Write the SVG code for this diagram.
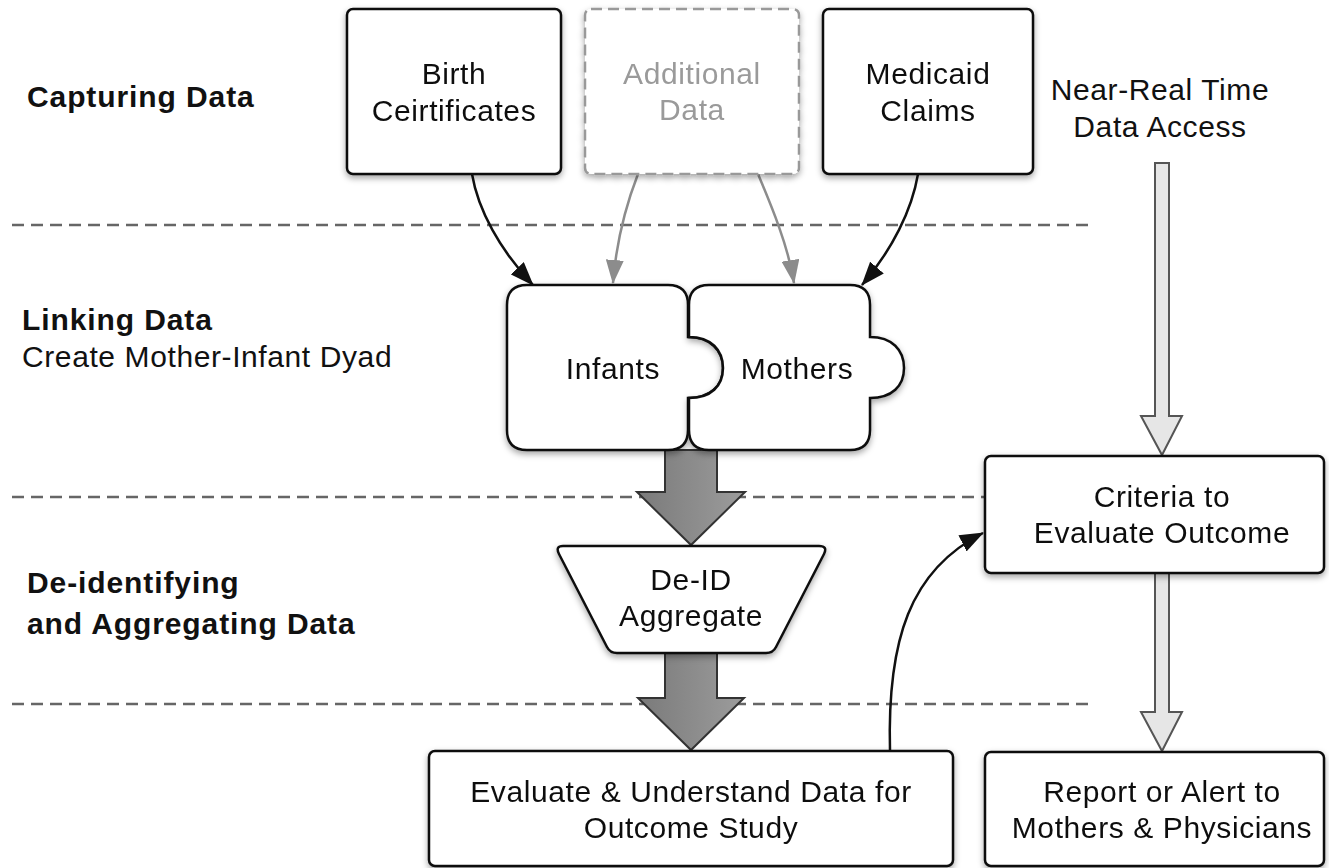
<svg xmlns="http://www.w3.org/2000/svg" width="1329" height="868" viewBox="0 0 1329 868">
<style>
  text { font-family: "Liberation Sans", Arial, Helvetica, sans-serif; font-size: 30px; letter-spacing: 0.6px; fill: #111; }
  .c { text-anchor: middle; }
  .b { font-weight: bold; letter-spacing: 0.9px; }
  .faint { fill: #9a9a9a; }
  .box { fill: #fff; stroke: #111; stroke-width: 2.5; }
  .dbox { fill: #fff; stroke: #999; stroke-width: 2.5; stroke-dasharray: 11 6; }
  .sep { stroke: #666; stroke-width: 2.5; stroke-dasharray: 12 7; fill: none; }
  .blk { stroke: #111; stroke-width: 2.5; fill: none; }
  .gry { stroke: #8c8c8c; stroke-width: 2.5; fill: none; }
  .big { fill: url(#gradBig); stroke: #333; stroke-width: 2; stroke-linejoin: miter; }
  .hol { fill: #e6e6e6; stroke: #555; stroke-width: 2; }
</style>
<defs>
  <filter id="sh" x="-10%" y="-10%" width="120%" height="125%">
    <feDropShadow dx="0" dy="3" stdDeviation="3" flood-color="#000" flood-opacity="0.35"/>
  </filter>
  <linearGradient id="gradBig" x1="0" y1="0" x2="1" y2="0">
    <stop offset="0" stop-color="#7a7a7a"/>
    <stop offset="1" stop-color="#9c9c9c"/>
  </linearGradient>
  <marker id="ab" viewBox="0 0 24 18" refX="23" refY="9" markerWidth="24" markerHeight="18" markerUnits="userSpaceOnUse" orient="auto">
    <path d="M0,0 L24,9 L0,18 Z" fill="#111"/>
  </marker>
  <marker id="ag" viewBox="0 0 24 18" refX="23" refY="9" markerWidth="24" markerHeight="18" markerUnits="userSpaceOnUse" orient="auto">
    <path d="M0,0 L24,9 L0,18 Z" fill="#8c8c8c"/>
  </marker>
</defs>
<rect width="1329" height="868" fill="#fff"/>

<g id="separators">
  <line class="sep" x1="12" y1="225" x2="1090" y2="225"/>
  <line class="sep" x1="12" y1="497" x2="985" y2="497"/>
  <line class="sep" x1="12" y1="704" x2="1094" y2="704"/>
</g>

<g id="labels">
  <text class="b" x="27" y="107">Capturing Data</text>
  <text class="b" x="22" y="330">Linking Data</text>
  <text x="22" y="367">Create Mother-Infant Dyad</text>
  <text class="b" x="27" y="593">De-identifying</text>
  <text class="b" x="27" y="634">and Aggregating Data</text>
  <text class="c" x="1160" y="100">Near-Real Time</text>
  <text class="c" x="1160" y="137">Data Access</text>
</g>

<g id="connectors">
  <path class="blk" d="M472,174 C478,210 500,250 533,285" marker-end="url(#ab)"/>
  <path class="blk" d="M918,174 C912,210 892,250 862,285" marker-end="url(#ab)"/>
  <path class="gry" d="M638,174 C626,205 616,245 613,283" marker-end="url(#ag)"/>
  <path class="gry" d="M758,174 C771,205 788,245 794,283" marker-end="url(#ag)"/>
  <path class="blk" d="M890,751 C887,640 910,570 983,533" marker-end="url(#ab)"/>
  <polygon class="big" points="665,450 717,450 717,492 745,492 691,545 637,492 665,492"/>
  <polygon class="big" points="665,653 717,653 717,698 744,698 691,750 638,698 665,698"/>
  <polygon class="hol" points="1155,163 1169,163 1169,416 1182,416 1162,455 1141,416 1155,416"/>
  <polygon class="hol" points="1155,573 1169,573 1169,712 1182,712 1162,751 1141,712 1155,712"/>
</g>

<g id="birth" filter="url(#sh)">
  <rect class="box" x="347" y="9" width="214" height="165" rx="6"/>
  <text class="c" x="454" y="84">Birth</text>
  <text class="c" x="454" y="121">Ceirtificates</text>
</g>

<g id="additional" filter="url(#sh)">
  <rect class="dbox" x="585" y="9" width="214" height="165" rx="6"/>
  <text class="c faint" x="692" y="84">Additional</text>
  <text class="c faint" x="692" y="120">Data</text>
</g>

<g id="medicaid" filter="url(#sh)">
  <rect class="box" x="823" y="9" width="210" height="165" rx="6"/>
  <text class="c" x="928" y="84">Medicaid</text>
  <text class="c" x="928" y="121">Claims</text>
</g>

<g id="infants" filter="url(#sh)">
  <path class="box" d="M527,285 H668 Q688,285 688,305 V337 C710,337 723,350 723,368 C723,386 710,398 688,398 V430 Q688,450 668,450 H527 Q507,450 507,430 V305 Q507,285 527,285 Z"/>
  <text class="c" x="613" y="379">Infants</text>
</g>

<g id="mothers" filter="url(#sh)">
  <path class="box" d="M709,285 H850 Q870,285 870,305 V337 C892,337 904,350 904,368 C904,386 892,398 870,398 V430 Q870,450 850,450 H709 Q689,450 689,430 V398 C711,398 723,386 723,368 C723,350 711,337 689,337 V305 Q689,285 709,285 Z"/>
  <text class="c" x="797" y="379">Mothers</text>
</g>

<g id="deid" filter="url(#sh)">
  <path class="box" d="M563,546 H819 Q828,546 824,554 L776,647 Q773,653 766,653 H617 Q610,653 607,647 L559,554 Q555,546 563,546 Z"/>
  <text class="c" x="691" y="590">De-ID</text>
  <text class="c" x="691" y="626">Aggregate</text>
</g>

<g id="evaluate" filter="url(#sh)">
  <rect class="box" x="429" y="751" width="524" height="115" rx="6"/>
  <text class="c" x="691" y="802">Evaluate &amp; Understand Data for</text>
  <text class="c" x="691" y="838">Outcome Study</text>
</g>

<g id="criteria" filter="url(#sh)">
  <rect class="box" x="985" y="456" width="339" height="117" rx="6"/>
  <text class="c" x="1162" y="507">Criteria to</text>
  <text class="c" x="1162" y="543">Evaluate Outcome</text>
</g>

<g id="report" filter="url(#sh)">
  <rect class="box" x="985" y="752" width="339" height="114" rx="6"/>
  <text class="c" x="1162" y="802">Report or Alert to</text>
  <text class="c" x="1162" y="838">Mothers &amp; Physicians</text>
</g>
</svg>
